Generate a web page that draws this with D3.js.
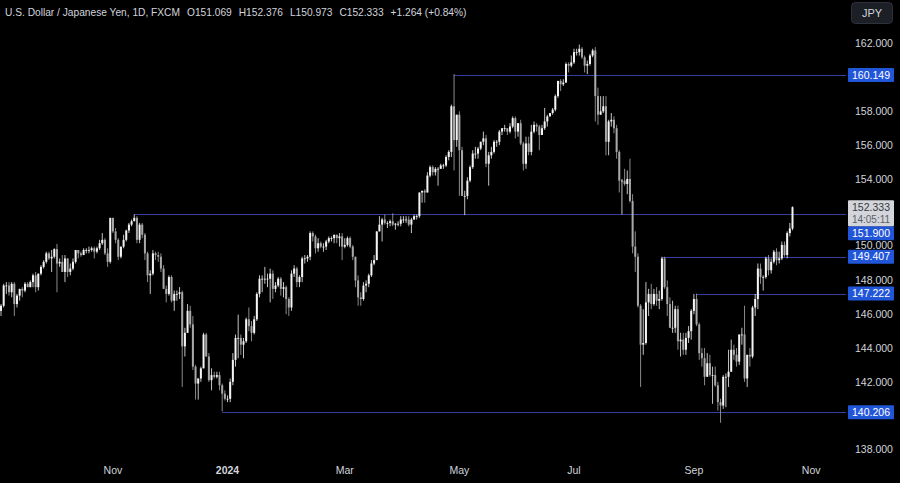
<!DOCTYPE html>
<html><head><meta charset="utf-8">
<script src="https://cdn.jsdelivr.net/npm/d3@7"></script>
<style>html,body{margin:0;padding:0;background:#000;overflow:hidden}</style>
</head><body>
<svg id="chart" width="900" height="483"></svg>
<script>
// Daily OHLC rows [open, high, low, close], one per weekday, starting Mon 4 Sep 2023
const sep2023 = [[146.2,146.6,145.9,146.5],[146.5,147.8,146.4,147.7],[147.7,147.9,147.2,147.7],[147.7,147.9,147.1,147.3],[147.3,147.9,147.0,147.8],[147.8,147.9,145.9,146.6],[146.6,147.2,146.4,147.1],[147.1,147.5,146.8,147.5],[147.5,147.6,147.0,147.4],[147.4,147.9,147.3,147.8],[147.8,147.9,147.6,147.6],[147.6,148.0,147.6,147.9],[147.9,148.4,147.6,148.3],[148.3,148.5,147.3,147.6],[147.6,148.4,147.4,148.4],[148.4,148.9,148.3,148.8],[148.8,149.2,148.7,149.1],[149.1,149.7,149.0,149.6],[149.6,149.7,149.2,149.3],[149.3,149.8,148.5,149.4]];
const oct2023 = [[149.4,149.9,149.3,149.85],[149.85,150.16,147.3,149.0],[149.0,149.3,148.8,149.1],[149.1,149.5,148.5,148.5],[148.5,149.5,147.9,149.3],[149.3,149.3,148.2,148.5],[148.5,149.0,148.3,148.7],[148.7,149.3,148.6,149.1],[149.1,149.8,149.0,149.8],[149.8,149.8,149.3,149.6],[149.6,149.7,149.4,149.5],[149.5,149.9,149.5,149.8],[149.8,149.9,149.6,149.8],[149.8,150.0,149.6,149.8],[149.8,150.0,149.7,149.9],[149.9,150.0,149.3,149.7],[149.7,150.0,149.6,149.9],[149.9,150.4,149.8,150.2],[150.2,150.8,150.1,150.4],[150.4,150.5,149.5,149.6],[149.6,149.9,148.8,149.1],[149.1,151.7,149.0,151.7]];
const nov2023 = [[151.7,151.7,150.8,150.9],[150.9,151.1,150.2,150.4],[150.4,150.5,149.2,149.4],[149.4,150.0,149.3,150.0],[150.0,150.7,149.9,150.4],[150.4,151.0,150.3,150.95],[150.95,151.4,150.8,151.3],[151.3,151.6,151.2,151.5],[151.5,151.91,151.5,151.7],[151.7,151.8,150.2,150.4],[150.4,151.4,150.2,151.3],[151.3,151.4,150.5,150.7],[150.7,150.8,149.2,149.6],[149.6,149.7,147.9,148.3],[148.3,148.6,147.2,148.4],[148.4,149.8,148.3,149.6],[149.6,149.7,149.2,149.5],[149.5,149.7,149.1,149.4],[149.4,149.6,148.5,148.7],[148.7,148.9,147.5,147.5],[147.5,147.7,146.7,147.2],[147.2,148.3,147.1,148.2]];
const dec2023 = [[148.2,148.3,146.7,146.8],[146.8,147.4,146.2,147.2],[147.2,147.4,146.8,147.2],[147.2,147.6,146.9,147.3],[147.3,147.4,141.7,144.1],[144.1,145.2,143.5,144.9],[144.9,146.6,144.9,146.2],[146.2,146.5,145.2,145.4],[145.4,145.9,142.7,142.9],[142.9,143.0,140.95,141.9],[141.9,142.2,140.95,142.2],[142.2,142.9,142.0,142.8],[142.8,144.9,142.8,144.8],[144.8,144.9,143.5,143.5],[143.5,143.7,142.0,142.1],[142.1,142.8,141.5,142.4],[142.4,142.6,142.2,142.3],[142.3,142.6,142.2,142.4],[142.4,142.6,141.5,141.8],[141.8,141.9,140.25,141.3],[141.3,141.5,140.9,141.0]];
const jan2024 = [[141.0,141.2,140.8,141.0],[141.0,142.2,140.8,142.0],[142.0,143.7,141.8,143.3],[143.3,144.8,142.9,144.6],[144.6,145.98,143.4,144.6],[144.6,144.8,143.6,144.2],[144.2,144.6,143.4,144.4],[144.4,145.8,144.3,145.7],[145.7,146.4,145.0,145.3],[145.3,145.6,144.4,144.9],[144.9,145.9,144.8,145.7],[145.7,147.3,145.6,147.2],[147.2,148.3,147.0,148.1],[148.1,148.3,147.3,148.1],[148.1,148.8,147.8,148.1],[148.1,148.4,147.6,148.1],[148.1,148.7,146.7,148.4],[148.4,148.6,146.9,147.5],[147.5,147.9,147.3,147.7],[147.7,148.2,147.6,148.1],[148.1,148.2,147.1,147.5],[147.5,147.9,147.0,147.6],[147.6,147.7,146.0,146.9]];
const feb2024 = [[146.9,147.0,145.9,146.4],[146.4,148.6,146.2,148.4],[148.4,148.9,148.2,148.7],[148.7,148.8,147.6,147.9],[147.9,148.3,147.6,148.2],[148.2,149.4,147.9,149.3],[149.3,149.5,149.0,149.3],[149.3,149.5,149.1,149.4],[149.4,150.9,149.2,150.8],[150.8,150.9,150.3,150.6],[150.6,150.7,149.6,149.9],[149.9,150.5,149.7,150.2],[150.2,150.3,149.9,150.0],[150.0,150.2,149.7,150.0],[150.0,150.4,149.8,150.3],[150.3,150.6,150.2,150.5],[150.5,150.6,150.3,150.5],[150.5,150.7,150.2,150.7],[150.7,150.7,150.2,150.5],[150.5,150.8,150.0,150.6],[150.6,150.8,149.2,150.0]];
const mar2024 = [[150.0,150.5,149.9,150.1],[150.1,150.6,150.0,150.5],[150.5,150.6,149.9,150.0],[150.0,150.1,149.2,149.4],[149.4,149.4,147.6,148.0],[148.0,148.3,146.5,147.0],[147.0,147.3,146.5,146.9],[146.9,147.9,146.8,147.7],[147.7,148.0,147.3,147.8],[147.8,148.4,147.6,148.3],[148.3,149.2,148.2,149.0],[149.0,149.5,148.9,149.2],[149.2,150.9,149.2,150.9],[150.9,151.8,150.9,151.3],[151.3,151.7,150.3,151.6],[151.6,151.9,151.3,151.4],[151.4,151.5,151.1,151.4],[151.4,151.6,151.2,151.5],[151.5,151.97,151.2,151.3],[151.3,151.4,151.0,151.35],[151.35,151.5,151.2,151.35]];
const apr2024 = [[151.35,151.8,151.2,151.6],[151.6,151.8,151.4,151.6],[151.6,151.8,151.4,151.6],[151.6,151.8,151.2,151.3],[151.3,151.7,150.8,151.6],[151.6,151.9,151.6,151.8],[151.8,151.9,151.6,151.8],[151.8,153.2,151.7,153.2],[153.2,153.3,152.6,153.3],[153.3,153.4,152.6,153.2],[153.2,154.4,153.2,154.2],[154.2,154.8,154.1,154.7],[154.7,154.8,154.2,154.4],[154.4,154.7,154.2,154.6],[154.6,154.7,153.6,154.6],[154.6,154.9,154.6,154.8],[154.8,154.9,154.6,154.8],[154.8,155.4,154.7,155.3],[155.3,155.7,155.1,155.6],[155.6,158.4,155.3,158.3],[158.3,160.2,154.5,156.3],[156.3,157.8,155.9,157.8]];
const may2024 = [[157.8,158.0,153.0,155.7],[155.7,155.9,153.0,153.0],[153.0,153.3,151.86,153.0],[153.0,154.1,152.8,153.9],[153.9,154.8,153.8,154.7],[154.7,155.7,154.6,155.5],[155.5,155.9,155.2,155.5],[155.5,155.9,155.2,155.8],[155.8,156.2,155.7,156.2],[156.2,156.8,156.0,156.4],[156.4,156.6,154.7,154.9],[154.9,155.6,153.6,155.4],[155.4,155.9,155.2,155.6],[155.6,156.3,155.5,156.2],[156.2,156.3,155.9,156.2],[156.2,156.9,156.0,156.8],[156.8,157.0,156.6,157.0],[157.0,157.2,156.8,157.0],[157.0,157.0,156.6,156.8],[156.8,157.3,156.7,157.1],[157.1,157.7,157.0,157.6],[157.6,157.7,156.4,156.8],[156.8,157.3,156.5,157.3]];
const jun2024 = [[157.3,157.5,156.0,156.1],[156.1,156.2,154.5,154.9],[154.9,156.5,154.6,156.1],[156.1,156.5,155.4,155.6],[155.6,157.2,155.4,156.8],[156.8,157.4,156.7,157.2],[157.2,157.3,156.8,157.1],[157.1,157.2,155.7,156.6],[156.6,157.2,156.6,157.0],[157.0,158.2,156.9,157.4],[157.4,157.8,157.1,157.7],[157.7,157.9,157.7,157.9],[157.9,158.2,157.8,158.1],[158.1,159.0,158.0,158.9],[158.9,159.8,158.8,159.8],[159.8,159.9,159.2,159.6],[159.6,159.9,159.5,159.7],[159.7,160.9,159.7,160.8],[160.8,160.9,160.3,160.7],[160.7,161.3,160.6,160.9]];
const jul2024 = [[160.9,161.7,160.8,161.5],[161.5,161.7,161.3,161.5],[161.5,161.95,161.3,161.7],[161.7,161.8,161.1,161.2],[161.2,161.3,160.3,160.7],[160.7,161.0,160.2,160.8],[160.8,161.4,160.7,161.3],[161.3,161.7,161.2,161.6],[161.6,161.8,157.4,158.9],[158.9,159.4,157.2,157.8],[157.8,158.9,157.8,158.0],[158.0,158.9,157.9,158.3],[158.3,158.9,155.4,156.2],[156.2,157.5,155.4,157.4],[157.4,157.9,157.1,157.5],[157.5,157.7,156.7,157.0],[157.0,157.2,155.2,155.6],[155.6,155.7,153.2,153.9],[153.9,154.0,151.9,153.9],[153.9,154.6,153.6,153.7],[153.7,154.5,153.1,154.0],[154.0,155.2,152.6,152.7],[152.7,153.1,149.6,150.0]];
const aug2024 = [[150.0,150.9,148.5,149.4],[149.4,149.6,146.4,146.5],[146.5,146.6,141.7,144.2],[144.2,146.3,143.6,144.3],[144.3,147.9,144.2,146.7],[146.7,147.5,145.9,147.2],[147.2,147.8,146.3,146.6],[146.6,147.5,146.5,147.2],[147.2,147.6,146.5,146.8],[146.8,147.4,146.3,146.9],[146.9,149.4,146.8,149.3],[149.3,149.4,147.5,147.6],[147.6,148.0,145.9,146.6],[146.6,147.0,145.2,145.2],[145.2,146.8,144.9,145.2],[145.2,146.5,144.9,146.3],[146.3,146.5,143.9,144.4],[144.4,144.9,143.5,144.5],[144.5,144.9,143.6,143.9],[143.9,144.9,143.6,144.6],[144.6,145.3,144.3,145.0],[145.0,146.3,144.5,146.2]];
const sep2024 = [[146.2,147.2,146.0,146.9],[146.9,147.22,145.3,145.4],[145.4,145.5,143.3,143.7],[143.7,144.0,142.9,143.4],[143.4,144.0,141.8,142.3],[142.3,143.7,142.3,143.1],[143.1,143.6,142.3,142.4],[142.4,142.9,140.7,142.4],[142.4,142.9,141.7,141.8],[141.8,142.0,140.3,140.8],[140.8,141.0,139.58,140.6],[140.6,142.4,140.4,142.3],[142.3,142.5,140.5,142.3],[142.3,143.9,141.7,142.6],[142.6,144.5,142.6,143.9],[143.9,144.2,143.3,143.6],[143.6,144.0,142.9,143.2],[143.2,144.8,143.0,144.8],[144.8,145.2,144.2,144.8],[144.8,146.5,142.0,142.2],[142.2,143.6,141.7,143.6]];
const oct2024 = [[143.6,144.0,142.9,143.5],[143.5,146.5,143.4,146.4],[146.4,147.2,145.9,146.9],[146.9,149.0,146.3,148.7],[148.7,149.0,147.8,148.2],[148.2,148.3,147.4,148.2],[148.2,149.4,148.1,149.3],[149.3,149.5,148.3,148.6],[148.6,149.3,148.4,149.1],[149.1,149.8,149.0,149.7],[149.7,149.9,148.9,149.2],[149.2,149.7,149.0,149.3],[149.3,150.3,149.2,150.1],[150.1,150.3,149.4,149.5],[149.5,150.9,149.3,150.8],[150.8,151.4,150.6,151.07],[151.069,152.376,150.973,152.333]];

const firstDay = "2023-09-04";
const priceTicks = [138, 142, 144, 146, 148, 150, 154, 156, 158, 162];
const timeTickDates = ["2023-11-01", "2024-01-01", "2024-03-01", "2024-05-01", "2024-07-01", "2024-09-02", "2024-11-01"];
const timeTickLabels = ["Nov", "2024", "Mar", "May", "Jul", "Sep", "Nov"];
const levelValues = [160.149, 151.900, 149.407, 147.222, 140.206];
const levelStartDates = ["2024-04-29", "2023-11-13", "2024-08-15", "2024-09-03", "2023-12-28"];
const titleText = "U.S. Dollar / Japanese Yen, 1D, FXCM";
const ohlcText = ["O151.069", "H152.376", "L150.973", "C152.333", "+1.264 (+0.84%)"];
const lastPrice = 152.333;
const countdown = "14:05:11";

function dayIndex(s) {
  const start = new Date(firstDay + "T00:00:00Z"), end = new Date(s + "T00:00:00Z");
  let n = 0;
  for (let d = new Date(start); d < end; d.setUTCDate(d.getUTCDate() + 1)) {
    const w = d.getUTCDay(); if (w !== 0 && w !== 6) n++;
  }
  return n;
}

const rows = [sep2023, oct2023, nov2023, dec2023, jan2024, feb2024, mar2024, apr2024, may2024, jun2024, jul2024, aug2024, sep2024, oct2024].flat();
const bars = rows.map((r, i) => ({i, o: r[0], h: r[1], l: r[2], c: r[3]}));

const svg = d3.select("#chart");
svg.append("rect").attr("width", 900).attr("height", 483).attr("fill", "#000");

const x = d3.scaleLinear().domain([0, 297]).range([1, 1 + 2.665 * 297]);
const y = d3.scaleLinear().domain([138, 162]).range([449.5, 43.7]);
const FONT = "'Liberation Sans', Arial, sans-serif";

// level lines
const levels = levelValues.map((v, k) => ({v, s: dayIndex(levelStartDates[k])}));
svg.append("g").selectAll("line").data(levels).join("line")
  .attr("x1", d => x(d.s)).attr("x2", 846)
  .attr("y1", d => Math.round(y(d.v)) + 0.5).attr("y2", d => Math.round(y(d.v)) + 0.5)
  .attr("stroke", "#3440a0").attr("stroke-width", 1);

// candles
const g = svg.append("g");
g.selectAll("line.w").data(bars).join("line").attr("class", "w")
  .attr("x1", d => x(d.i)).attr("x2", d => x(d.i))
  .attr("y1", d => y(d.h)).attr("y2", d => y(d.l))
  .attr("stroke", d => d.c >= d.o ? "#d8d8d8" : "#9a9a9a").attr("stroke-width", 0.9);
g.selectAll("rect").data(bars).join("rect")
  .attr("x", d => x(d.i) - 1).attr("width", 2)
  .attr("y", d => y(Math.max(d.o, d.c)))
  .attr("height", d => Math.max(0.8, Math.abs(y(d.o) - y(d.c))))
  .attr("fill", d => d.c >= d.o ? "#f4f4f4" : "#a8a8a8");

// right-scale label layout (boxes pushed down to avoid overlap)
const ly = y(lastPrice);
const lastBox = {top: ly - 7, bottom: ly + 19};
const boxes = [lastBox];
const levelBoxes = levels.map(d => ({v: d.v, c: y(d.v)})).sort((a, b) => a.c - b.c);
let prevBottom = -Infinity;
levelBoxes.forEach(b => {
  let top = b.c - 7;
  const overl = boxes.find(o => top < o.bottom && top + 14 > o.top);
  if (overl) top = overl.bottom;
  if (top < prevBottom) top = prevBottom;
  b.top = top; b.bottom = top + 14; prevBottom = b.bottom;
  boxes.push(b);
});

// price axis ticks, nudged above any box they collide with
const ticks = priceTicks.map(v => {
  let ty = y(v);
  boxes.forEach(o => { if (ty + 4.5 > o.top && ty - 4.5 < o.bottom) ty = o.top - 4; });
  return {v, ty};
});
svg.append("g").selectAll("text").data(ticks).join("text")
  .attr("x", 855).attr("y", d => d.ty).attr("dy", "0.35em")
  .attr("fill", "#d1d4dc").attr("font-family", FONT).attr("font-size", 10.5)
  .text(d => d3.format(".3f")(d.v));

// level labels
const lg = svg.append("g");
lg.selectAll("rect").data(levelBoxes).join("rect")
  .attr("x", 848).attr("width", 46).attr("y", d => d.top).attr("height", 14)
  .attr("fill", "#2256d9").attr("rx", 1);
lg.selectAll("text").data(levelBoxes).join("text")
  .attr("x", 871).attr("y", d => d.top + 7).attr("dy", "0.35em").attr("text-anchor", "middle")
  .attr("fill", "#fff").attr("font-family", FONT).attr("font-size", 10.5).text(d => d.v.toFixed(3));

// last price label
svg.append("rect").attr("x", 848).attr("width", 46).attr("y", lastBox.top).attr("height", lastBox.bottom - lastBox.top).attr("fill", "#d3d5da").attr("rx", 1);
svg.append("text").attr("x", 871).attr("y", ly).attr("dy", "0.35em").attr("text-anchor", "middle")
  .attr("fill", "#333741").attr("font-family", FONT).attr("font-size", 10.5).text(lastPrice.toFixed(3));
svg.append("text").attr("x", 871).attr("y", ly + 12.5).attr("dy", "0.35em").attr("text-anchor", "middle")
  .attr("fill", "#5a5f6b").attr("font-family", FONT).attr("font-size", 10).text(countdown);

// time axis
svg.append("g").selectAll("text").data(timeTickDates).join("text")
  .attr("x", d => x(dayIndex(d))).attr("y", 470).attr("dy", "0.35em").attr("text-anchor", "middle")
  .attr("fill", "#d1d4dc").attr("font-family", FONT).attr("font-size", 10.5)
  .attr("font-weight", (d, k) => timeTickLabels[k] === "2024" ? "bold" : "normal")
  .text((d, k) => timeTickLabels[k]);

// title
const tt = svg.append("text").attr("x", 5).attr("y", 12).attr("dy", "0.35em")
  .attr("fill", "#d1d4dc").attr("font-family", FONT).attr("font-size", 10.2);
tt.append("tspan").text(titleText);
ohlcText.forEach(s => tt.append("tspan").attr("dx", 7).text(s));

// currency button
svg.append("rect").attr("x", 851.5).attr("y", 2.5).attr("width", 41).attr("height", 21).attr("rx", 4)
  .attr("fill", "#1c1f26").attr("stroke", "#2e323c");
svg.append("text").attr("x", 872).attr("y", 13).attr("dy", "0.35em").attr("text-anchor", "middle")
  .attr("fill", "#d1d4dc").attr("font-family", FONT).attr("font-size", 11).text("JPY");
</script>
</body></html>
